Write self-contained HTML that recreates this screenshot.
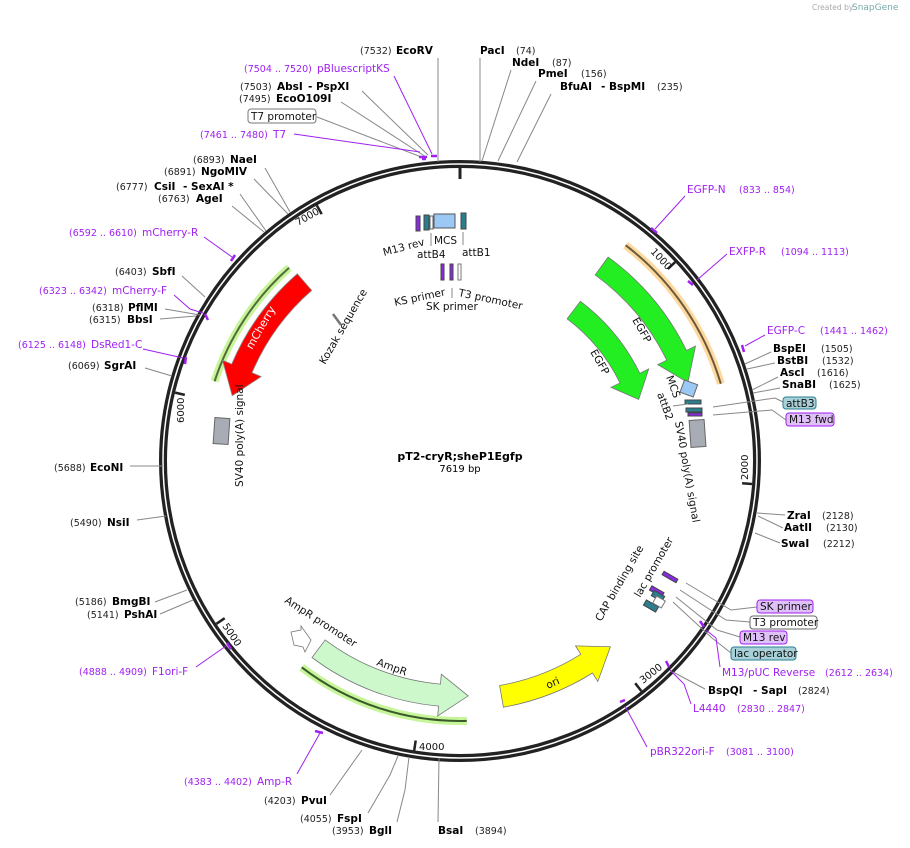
<!DOCTYPE html>
<html><head><meta charset="utf-8"><style>
html,body{margin:0;padding:0;background:#fff;}
svg{display:block;font-family:"DejaVu Sans","Liberation Sans",sans-serif;}
.b{font-weight:bold;font-size:10.5px;fill:#000}
.n{font-size:9.5px;fill:#222}
.p{font-size:10.5px;fill:#a020f0}
.pn{font-size:9.5px;fill:#a020f0}
.f{font-size:10.5px;fill:#111}
.l{stroke:#888;stroke-width:1;fill:none}
.lp{stroke:#a020f0;stroke-width:1;fill:none}
.mk{stroke:#a020f0;stroke-width:2.5;fill:none}
</style></head><body>
<svg width="910" height="848" viewBox="0 0 910 848">
<text x="812" y="10" font-size="7.5" fill="#aaa">Created by</text><text x="852" y="10" font-size="9" fill="#7aa">SnapGene</text>

<circle cx="460" cy="461" r="297" fill="none" stroke="#222" stroke-width="8"/>
<circle cx="460" cy="461" r="297" fill="none" stroke="#fff" stroke-width="1.5"/>
<g stroke="#222" stroke-width="2.5">
<line x1="460" y1="166" x2="460" y2="179" stroke-width="3"/>
<line x1="675.2" y1="262.1" x2="667.8" y2="268.9"/>
<line x1="752.1" y1="484" x2="742.1" y2="483.2"/>
<line x1="641.4" y1="691.1" x2="635.2" y2="683.2"/>
<line x1="414.2" y1="750.4" x2="415.7" y2="740.5"/>
<line x1="216.4" y1="623.8" x2="224.7" y2="618.2"/>
<line x1="175.1" y1="392.6" x2="184.8" y2="394.9"/>
<line x1="316.8" y1="205.4" x2="321.7" y2="214.1"/>
</g>
<g font-size="10" fill="#111">
<text transform="translate(650,252) rotate(47)">1000</text>
<text transform="translate(748,480) rotate(-90)">2000</text>
<text transform="translate(643,684) rotate(-38)">3000</text>
<text x="419" y="750">4000</text>
<text transform="translate(222,626) rotate(56)">5000</text>
<text transform="translate(184,423) rotate(-90)">6000</text>
<text transform="translate(298,226) rotate(-30)">7000</text>
</g>

<path d="M289.1,267.8 A258,258 0 0 0 214.6,381.3" fill="none" stroke="#c6f59a" stroke-width="8"/>
<path d="M289.1,267.8 A258,258 0 0 0 214.6,381.3" fill="none" stroke="#556b3a" stroke-width="2"/>
<path d="M297.3,273.8 A248,248 0 0 0 231.7,364.1 L222.5,360.2 L232.2,395.7 L261.2,376.6 L252,372.7 A226,226 0 0 1 311.7,290.4 Z" fill="#ff0000" stroke="#888" stroke-width="0.8"/>
<text transform="translate(252,350) rotate(-60)" font-size="11" fill="#fff">mCherry</text>

<path d="M625.6,245.2 A272,272 0 0 1 720.8,383.8" fill="none" stroke="#fdd9a0" stroke-width="8"/>
<path d="M625.6,245.2 A272,272 0 0 1 720.8,383.8" fill="none" stroke="#6b5a3a" stroke-width="2"/>
<path d="M608.1,257.1 A252,252 0 0 1 686.5,350.5 L695.5,346.1 L687.9,382.5 L657.7,364.6 L666.7,360.2 A230,230 0 0 0 595.2,274.9 Z" fill="#22ee22" stroke="#777" stroke-width="0.8"/>
<path d="M580.4,301.3 A200,200 0 0 1 639.8,373.3 L648.7,368.9 L638.7,399.5 L611,387.3 L620,383 A178,178 0 0 0 567.1,318.8 Z" fill="#22ee22" stroke="#777" stroke-width="0.8"/>
<text transform="translate(632,320) rotate(60)" class="f">EGFP</text>
<text transform="translate(590,352) rotate(60)" class="f">EGFP</text>

<path d="M301.7,667.3 A260,260 0 0 0 466.8,720.9" fill="none" stroke="#c6f59a" stroke-width="8"/>
<path d="M301.7,667.3 A260,260 0 0 0 466.8,720.9" fill="none" stroke="#3a5a2a" stroke-width="2"/>
<path d="M312,657.5 A246,246 0 0 0 438.6,706.1 L437.7,716 L468.2,695.9 L441.3,674.2 L440.5,684.1 A224,224 0 0 1 325.2,639.9 Z" fill="#ccf8cc" stroke="#777" stroke-width="0.8"/>
<path d="M291,632 L301,630 L301,626 L311,640 L305,652 L303,647 L294,645 Z" fill="#fff" stroke="#777" stroke-width="0.8"/>
<text transform="translate(284,602) rotate(33)" class="f">AmpR promoter</text>
<text transform="translate(376,665) rotate(20)" class="f">AmpR</text>

<path d="M503.4,707.2 A250,250 0 0 0 592.5,673 L597.8,681.5 L610.4,646.7 L575.5,645.9 L580.8,654.3 A228,228 0 0 1 499.6,685.5 Z" fill="#ffff00" stroke="#777" stroke-width="0.8"/>
<text transform="translate(548,689) rotate(-25)" class="f">ori</text>

<rect x="214" y="418" width="15" height="26" fill="#a8adb5" stroke="#666" transform="rotate(4 221 431)"/>
<rect x="690" y="420" width="15" height="27" fill="#a8adb5" stroke="#666" transform="rotate(-4 697 433)"/>
<text transform="translate(243,487) rotate(-90)" class="f">SV40 poly(A) signal</text>
<text transform="translate(675,422) rotate(80)" class="f">SV40 poly(A) signal</text>
<text transform="translate(325,365) rotate(-60)" class="f">Kozak sequence</text>
<line x1="333" y1="314" x2="341" y2="325" stroke="#777" stroke-width="2.5"/>

<rect x="682" y="382" width="14" height="13" fill="#9cc8f5" stroke="#666" transform="rotate(20 689 388)"/>
<rect x="685" y="400" width="16" height="4" fill="#2a7f8f" stroke="#444"/>
<rect x="686" y="408" width="16" height="4" fill="#2a7f8f" stroke="#444"/>
<rect x="688" y="413" width="14" height="3" fill="#8a2be2" stroke="#444"/>
<text transform="translate(666,377) rotate(70)" class="f">MCS</text>
<text transform="translate(657,394) rotate(70)" class="f">attB2</text>
<line x1="673" y1="406" x2="688" y2="404" class="l"/>

<rect x="416" y="216" width="4" height="15" fill="#8a2be2" stroke="#444"/>
<rect x="424" y="215" width="5" height="15" fill="#2a7f8f" stroke="#444"/>
<rect x="430" y="216" width="3" height="13" fill="#fff" stroke="#666"/>
<rect x="434" y="214" width="21" height="14" fill="#9cc8f5" stroke="#555"/>
<rect x="461" y="213" width="5" height="16" fill="#2a7f8f" stroke="#444"/>
<line x1="431" y1="233" x2="431" y2="246" class="l"/>
<line x1="463" y1="232" x2="463" y2="245" class="l"/>
<text transform="translate(384,256) rotate(-15)" class="f">M13 rev</text>
<text x="434" y="244" class="f">MCS</text>
<text x="417" y="258" class="f">attB4</text>
<text x="462" y="256" class="f">attB1</text>
<rect x="441" y="264" width="3" height="16" fill="#8a2be2" stroke="#444"/>
<rect x="450" y="264" width="3" height="16" fill="#8a2be2" stroke="#444"/>
<rect x="458" y="264" width="3" height="16" fill="#fff" stroke="#777"/>
<line x1="452" y1="288" x2="452" y2="298" class="l"/>
<text transform="translate(395,306) rotate(-12)" class="f">KS primer</text>
<text transform="translate(458,296) rotate(12)" class="f">T3 promoter</text>
<text x="426" y="310" class="f">SK primer</text>

<g>
<rect x="662" y="575" width="16" height="4" fill="#8a2be2" stroke="#444" transform="rotate(30 670 577)"/>
<rect x="650" y="589" width="14" height="5" fill="#8a2be2" stroke="#444" transform="rotate(30 657 591)"/>
<rect x="652" y="593" width="12" height="6" fill="#2a7f8f" stroke="#444" transform="rotate(30 658 596)"/>
<rect x="644" y="603" width="14" height="6" fill="#2a7f8f" stroke="#444" transform="rotate(30 651 606)"/>
<rect x="654" y="598" width="10" height="8" fill="#fff" stroke="#777" transform="rotate(30 659 602)"/>
</g>
<text transform="translate(601,622) rotate(-60)" class="f">CAP binding site</text>
<text transform="translate(640,598) rotate(-60)" class="f">lac promoter</text>
<polyline points="686,583 731,610 757,607" class="l"/>
<polyline points="680,590 726,620 750,622" class="l"/>
<polyline points="676,597 717,630 740,637" class="l"/>
<polyline points="673,602 712,638 731,653" class="l"/>
<rect x="757" y="600" width="56" height="13" rx="3" fill="#e0c0f8" stroke="#a020f0"/><text x="760" y="610" class="f">SK primer</text>
<rect x="750" y="616" width="67" height="13" rx="3" fill="#fff" stroke="#666"/><text x="753" y="626" class="f">T3 promoter</text>
<rect x="740" y="631" width="47" height="13" rx="3" fill="#e0c0f8" stroke="#a020f0"/><text x="743" y="641" class="f">M13 rev</text>
<rect x="731" y="647" width="65" height="13" rx="3" fill="#a8d0d8" stroke="#2a7f8f"/><text x="734" y="657" class="f">lac operator</text>

<polyline points="713,407 775,398 783,402" class="l"/>
<polyline points="713,415 772,410 786,420" class="l"/>
<rect x="783" y="397" width="33" height="12" rx="3" fill="#a8d0d8" stroke="#2a7f8f"/><text x="786" y="407" class="f">attB3</text>
<rect x="786" y="413" width="48" height="13" rx="3" fill="#e0c0f8" stroke="#a020f0"/><text x="789" y="423" class="f">M13 fwd</text>

<text x="360" y="54" class="n">(7532)</text><text x="396" y="54" class="b">EcoRV</text>
<line x1="438" y1="58" x2="438" y2="162" class="l"/>
<text x="480" y="54" class="b">PacI</text><text x="516" y="54" class="n">(74)</text>
<line x1="480" y1="58" x2="480" y2="162" class="l"/>
<text x="512" y="66" class="b">NdeI</text><text x="552" y="66" class="n">(87)</text>
<line x1="511" y1="70" x2="482" y2="161" class="l"/>
<text x="538" y="77" class="b">PmeI</text><text x="581" y="77" class="n">(156)</text>
<line x1="536" y1="81" x2="498" y2="161" class="l"/>
<text x="560" y="90" class="b">BfuAI</text><text x="601" y="90" class="b">- BspMI</text><text x="657" y="90" class="n">(235)</text>
<line x1="551" y1="94" x2="517" y2="162" class="l"/>
<text x="244" y="72" class="pn">(7504 .. 7520)</text><text x="317" y="72" class="p">pBluescriptKS</text>
<line x1="394" y1="76" x2="432" y2="154" class="lp"/>
<text x="240" y="90" class="n">(7503)</text><text x="277" y="90" class="b">AbsI</text><text x="308" y="90" class="b">- PspXI</text>
<line x1="362" y1="91" x2="428" y2="155" class="l"/>
<text x="239" y="102" class="n">(7495)</text><text x="276" y="102" class="b">EcoO109I</text>
<line x1="341" y1="102" x2="426" y2="157" class="l"/>
<rect x="248" y="109" width="68" height="14" rx="3" fill="#fff" stroke="#777"/><text x="251" y="120" class="f">T7 promoter</text>
<line x1="317" y1="117" x2="424" y2="158" class="l"/>
<text x="200" y="138" class="pn">(7461 .. 7480)</text><text x="273" y="138" class="p">T7</text>
<line x1="294" y1="134" x2="420" y2="152" class="lp"/>
<path d="M419,157 L427,157 M431,156 L437,156 M422,159 L426,159" class="mk"/>

<text x="193" y="163" class="n">(6893)</text><text x="230" y="163" class="b">NaeI</text>
<line x1="265" y1="168" x2="290" y2="212" class="l"/>
<text x="164" y="175" class="n">(6891)</text><text x="201" y="175" class="b">NgoMIV</text>
<line x1="254" y1="179" x2="288" y2="214" class="l"/>
<text x="116" y="190" class="n">(6777)</text><text x="154" y="190" class="b">CsiI</text><text x="183" y="190" class="b">- SexAI *</text>
<line x1="240" y1="194" x2="266" y2="231" class="l"/>
<text x="158" y="202" class="n">(6763)</text><text x="196" y="202" class="b">AgeI</text>
<line x1="232" y1="206" x2="264" y2="232" class="l"/>
<text x="69" y="236" class="pn">(6592 .. 6610)</text><text x="142" y="236" class="p">mCherry-R</text>
<line x1="204" y1="237" x2="232" y2="257" class="lp"/><path d="M231,261 L235,255" class="mk"/>
<text x="115" y="275" class="n">(6403)</text><text x="152" y="275" class="b">SbfI</text>
<line x1="182" y1="276" x2="205" y2="297" class="l"/>
<text x="39" y="294" class="pn">(6323 .. 6342)</text><text x="112" y="294" class="p">mCherry-F</text>
<polyline points="174,295 190,309 203,313" class="lp"/><path d="M205,314 L208,320" class="mk"/>
<text x="92" y="311" class="n">(6318)</text><text x="128" y="311" class="b">PflMI</text>
<line x1="165" y1="309" x2="200" y2="315" class="l"/>
<text x="89" y="323" class="n">(6315)</text><text x="127" y="323" class="b">BbsI</text>
<line x1="160" y1="319" x2="196" y2="316" class="l"/>
<text x="18" y="348" class="pn">(6125 .. 6148)</text><text x="91" y="348" class="p">DsRed1-C</text>
<line x1="143" y1="349" x2="183" y2="358" class="lp"/><path d="M186,357 L185,364" class="mk"/>
<text x="68" y="369" class="n">(6069)</text><text x="104" y="369" class="b">SgrAI</text>
<line x1="145" y1="368" x2="172" y2="376" class="l"/>
<text x="54" y="471" class="n">(5688)</text><text x="90" y="471" class="b">EcoNI</text>
<line x1="130" y1="466" x2="163" y2="466" class="l"/>
<text x="70" y="526" class="n">(5490)</text><text x="107" y="526" class="b">NsiI</text>
<line x1="137" y1="520" x2="166" y2="516" class="l"/>
<text x="75" y="605" class="n">(5186)</text><text x="112" y="605" class="b">BmgBI</text>
<line x1="155" y1="602" x2="187" y2="590" class="l"/>
<text x="87" y="618" class="n">(5141)</text><text x="124" y="618" class="b">PshAI</text>
<line x1="160" y1="614" x2="193" y2="600" class="l"/>
<text x="79" y="675" class="pn">(4888 .. 4909)</text><text x="152" y="675" class="p">F1ori-F</text>
<line x1="196" y1="667" x2="226" y2="646" class="lp"/><path d="M227,643 L231,649" class="mk"/>
<text x="184" y="785" class="pn">(4383 .. 4402)</text><text x="257" y="785" class="p">Amp-R</text>
<line x1="297" y1="774" x2="320" y2="733" class="lp"/><path d="M315,731 L323,733" class="mk"/>
<text x="264" y="804" class="n">(4203)</text><text x="301" y="804" class="b">PvuI</text>
<line x1="330" y1="795" x2="362" y2="750" class="l"/>
<text x="300" y="822" class="n">(4055)</text><text x="337" y="822" class="b">FspI</text>
<polyline points="368,813 390,775 398,756" class="l"/>
<text x="332" y="834" class="n">(3953)</text><text x="369" y="834" class="b">BglI</text>
<polyline points="397,822 405,790 409,757" class="l"/>
<text x="438" y="834" class="b">BsaI</text><text x="475" y="834" class="n">(3894)</text>
<line x1="438" y1="822" x2="439" y2="758" class="l"/>

<text x="687" y="193" class="p">EGFP-N</text><text x="739" y="193" class="pn">(833 .. 854)</text>
<line x1="685" y1="196" x2="655" y2="229" class="lp"/><path d="M651,228 L657,233" class="mk"/>
<text x="729" y="255" class="p">EXFP-R</text><text x="781" y="255" class="pn">(1094 .. 1113)</text>
<line x1="727" y1="254" x2="697" y2="280" class="lp"/><path d="M688,281 L693,285" class="mk"/>
<text x="767" y="334" class="p">EGFP-C</text><text x="820" y="334" class="pn">(1441 .. 1462)</text>
<line x1="765" y1="335" x2="745" y2="346" class="lp"/><path d="M742,345 L744,352" class="mk"/>
<text x="773" y="352" class="b">BspEI</text><text x="821" y="352" class="n">(1505)</text>
<line x1="771" y1="352" x2="745" y2="364" class="l"/>
<text x="777" y="364" class="b">BstBI</text><text x="822" y="364" class="n">(1532)</text>
<line x1="775" y1="363" x2="747" y2="369" class="l"/>
<text x="780" y="376" class="b">AscI</text><text x="817" y="376" class="n">(1616)</text>
<line x1="778" y1="377" x2="752" y2="390" class="l"/>
<text x="782" y="388" class="b">SnaBI</text><text x="829" y="388" class="n">(1625)</text>
<line x1="780" y1="388" x2="753" y2="393" class="l"/>
<text x="787" y="519" class="b">ZraI</text><text x="822" y="519" class="n">(2128)</text>
<line x1="785" y1="515" x2="757" y2="513" class="l"/>
<text x="784" y="531" class="b">AatII</text><text x="826" y="531" class="n">(2130)</text>
<line x1="783" y1="528" x2="758" y2="516" class="l"/>
<text x="781" y="547" class="b">SwaI</text><text x="823" y="547" class="n">(2212)</text>
<line x1="780" y1="543" x2="755" y2="533" class="l"/>
<text x="722" y="676" class="p">M13/pUC Reverse</text><text x="825" y="676" class="pn">(2612 .. 2634)</text>
<polyline points="720,667 716,638 706,630" class="lp"/><path d="M700,621 L704,627" class="mk"/>
<text x="708" y="694" class="b">BspQI</text><text x="753" y="694" class="b">- SapI</text><text x="798" y="694" class="n">(2824)</text>
<polyline points="705,689 688,680 673,672" class="l"/>
<text x="693" y="712" class="p">L4440</text><text x="737" y="712" class="pn">(2830 .. 2847)</text>
<polyline points="691,704 684,684 670,670" class="lp"/><path d="M666,661 L669,667" class="mk"/>
<text x="650" y="755" class="p">pBR322ori-F</text><text x="726" y="755" class="pn">(3081 .. 3100)</text>
<line x1="647" y1="747" x2="625" y2="706" class="lp"/><path d="M620,702 L625,700" class="mk"/>

<text x="460" y="460" text-anchor="middle" font-weight="bold" font-size="11">pT2-cryR;sheP1Egfp</text>
<text x="460" y="472" text-anchor="middle" font-size="10">7619 bp</text>
</svg>
</body></html>
